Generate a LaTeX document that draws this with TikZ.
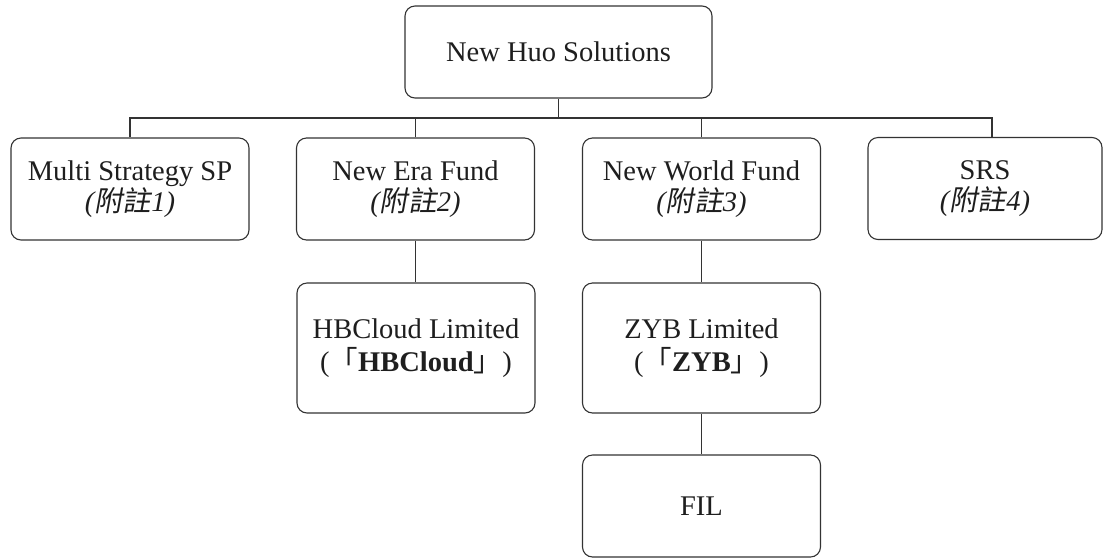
\documentclass[tikz,border=0pt]{standalone}
\usepackage{fontspec}
\setmainfont{Liberation Serif}
\newfontfamily\cjkit{Noto Sans CJK TC}[FakeSlant=0.18]
\newfontfamily\cjkup{Noto Sans CJK TC}
\newcommand{\fnote}[1]{{\itshape(\cjkit 附註\normalfont\itshape #1)}}
\newcommand{\lbrk}{{\cjkup 「}}
\newcommand{\rbrk}{{\cjkup 」}}
\definecolor{linec}{HTML}{333333}
\definecolor{textc}{HTML}{1E1E1E}
\tikzset{
  orgbox/.style={draw=linec, line width=1.1pt, rounded corners=10pt,
    minimum width=238pt, minimum height=102pt, align=center, text=textc,
    inner sep=0pt, font=\fontsize{28.5}{31}\selectfont},
  conn/.style={draw=linec, line width=1.1pt}
}
\begin{document}
\begin{tikzpicture}[x=1pt,y=-1pt]
\useasboundingbox (0,0) rectangle (1103,558);
\node[orgbox, minimum width=307pt, minimum height=92pt] (top) at (558.5,52) {New Huo Solutions};
\node[orgbox] (multi) at (130,189) {Multi Strategy SP\\\fnote{1}};
\node[orgbox] (era) at (415.5,189) {New Era Fund\\\fnote{2}};
\node[orgbox] (world) at (701.5,189) {New World Fund\\\fnote{3}};
\node[orgbox, minimum width=234pt] (srs) at (985,188.5) {SRS\\\fnote{4}};
\node[orgbox, minimum height=130pt, font=\fontsize{28.5}{33}\selectfont] (hb) at (416,348) {HBCloud Limited\\(\lbrk\textbf{HBCloud}\rbrk)};
\node[orgbox, minimum height=130pt, font=\fontsize{28.5}{33}\selectfont] (zyb) at (701.5,348) {ZYB Limited\\(\lbrk\textbf{ZYB}\rbrk)};
\node[orgbox] (fil) at (701.5,506) {FIL};
\coordinate (bus) at (0,118);
\coordinate (srsx) at (992,0);
\draw[conn] (top.south) -- (top.south |- bus);
\draw[conn] (multi.north) -- (multi.north |- bus) -- (srsx |- bus) -- (srsx |- srs.north);
\draw[conn] (era.north) -- (era.north |- bus);
\draw[conn] (world.north) -- (world.north |- bus);
\draw[conn] (era.south) -- (era.south |- hb.north);
\draw[conn] (world.south) -- (zyb.north);
\draw[conn] (zyb.south) -- (fil.north);
\end{tikzpicture}
\end{document}
